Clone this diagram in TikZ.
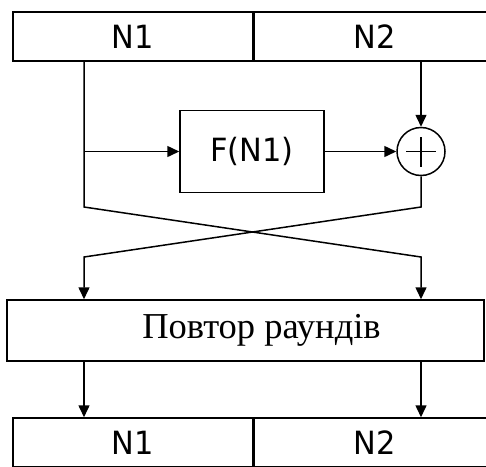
\documentclass[tikz,border=0pt]{standalone}
\usepackage{fontspec}
\setmainfont{Liberation Serif}
\newfontfamily\cellfont[FakeStretch=0.95]{DejaVu Sans}
\usetikzlibrary{arrows.meta,positioning}
\tikzset{
  cellbox/.style={
    rectangle, draw, line width=1.5pt,
    minimum width=240pt, minimum height=49pt,
    font=\cellfont\fontsize{32}{38}\selectfont,
    inner sep=0pt
  },
  funcbox/.style={
    rectangle, draw, line width=1.5pt,
    minimum width=144pt, minimum height=82pt,
    font=\cellfont\fontsize{32}{38}\selectfont,
    inner sep=0pt
  },
  xorcircle/.style={circle, draw, line width=1.5pt,
    minimum size=48pt, inner sep=0pt,
    path picture={\draw[line width=1.5pt]
      (path picture bounding box.center) ++(-15pt,0) -- ++(30pt,0)
      (path picture bounding box.center) ++(0,-15pt) -- ++(0,30pt);}},
  roundbox/.style={rectangle, draw, line width=1.5pt,
    minimum width=477pt, minimum height=61pt,
    font=\fontsize{36.5}{42}\selectfont, inner sep=0pt},
  flowarrow/.style={
    -{Triangle[length=12pt,width=11pt]}, line width=1.5pt
  },
}

\begin{document}
\begin{tikzpicture}[x=1pt,y=-1pt]
\clip (0,0) rectangle (486,466);
\fill[white] (0,0) rectangle (486,466);
\node[cellbox] (n1top) at (133,36.5) {N1};
\node[cellbox, right=0pt of n1top] (n2top) {N2};
\node[funcbox] (func) at (252,151.5) {F(N1)};
\node[xorcircle] (xor) at (421,151.5) {};
\node[roundbox] (rounds) at (245.5,330.5) {\hspace*{32pt}\raisebox{-3pt}{Повтор раундів}};
\node[cellbox] (n1bot) at (133,442.5) {N1};
\node[cellbox, right=0pt of n1bot] (n2bot) {N2};
\coordinate (lbend) at (84,207);
\coordinate (rbend) at (421,207);
\coordinate (lcross) at (84,257);
\coordinate (rcross) at (421,257);
\draw[flowarrow] (lbend |- n1top.south) -- (lbend) -- (rcross) -- (rcross |- rounds.north);
\draw[flowarrow] (xor.south) -- (rbend) -- (lcross) -- (lcross |- rounds.north);
\draw[flowarrow] (lbend |- func.west) -- (func.west);
\draw[flowarrow] (func.east) -- (xor.west);
\draw[flowarrow] (xor |- n2top.south) -- (xor.north);
\draw[flowarrow] (lcross |- rounds.south) -- (lcross |- n1bot.north);
\draw[flowarrow] (rcross |- rounds.south) -- (rcross |- n2bot.north);
\end{tikzpicture}
\end{document}
